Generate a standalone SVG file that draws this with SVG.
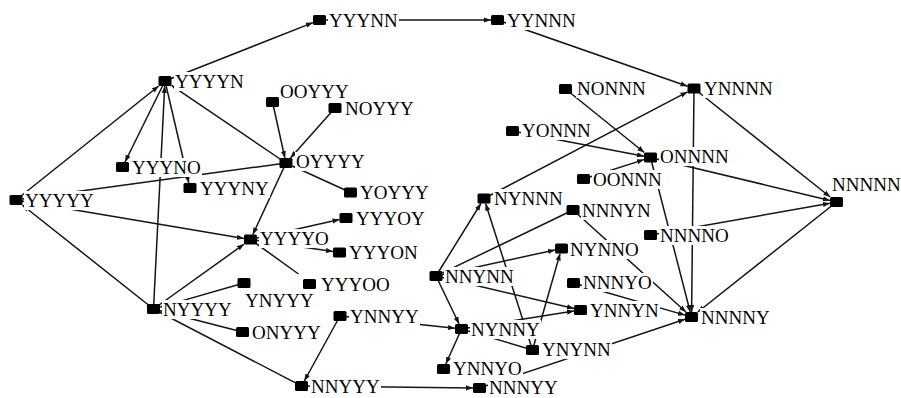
<svg xmlns="http://www.w3.org/2000/svg" width="901" height="398" viewBox="0 0 901 398">
  <style>
    .e { stroke: #141414; stroke-width: 1.5; fill: none; marker-end: url(#ah); }
    .p { stroke: #141414; stroke-width: 1.5; fill: none; }
    .sq { fill: #000; }
    .bg { fill: #fff; }
    text { font-family: "Liberation Serif", "Times New Roman", serif; font-size: 19px; fill: #000; }
  </style>
  <defs>
    <marker id="ah" markerUnits="userSpaceOnUse" markerWidth="7" markerHeight="6" refX="7" refY="3" orient="auto">
      <path d="M0,0.4 L7,3 L0,5.6 z" fill="#141414"/>
    </marker>
  </defs>

  <!-- connectors: from source centre to the edge of the target square -->
  <g id="edges">
    <line class="e" x1="16" y1="200" x2="158.7" y2="86"/>
    <line class="e" x1="153.5" y1="309" x2="22.3" y2="205"/>
    <line class="e" x1="286" y1="163" x2="22.5" y2="199.1"/>
    <line class="e" x1="16" y1="200" x2="244" y2="238.4"/>
    <line class="e" x1="165" y1="81" x2="313" y2="22.6"/>
    <line class="e" x1="319.5" y1="20" x2="491" y2="20"/>
    <line class="e" x1="497.5" y1="20" x2="687.5" y2="86.2"/>
    <line class="e" x1="165" y1="81" x2="125" y2="162"/>
    <line class="e" x1="153.5" y1="309" x2="164.7" y2="86"/>
    <line class="e" x1="165" y1="81" x2="188.8" y2="183"/>
    <line class="e" x1="286" y1="163" x2="171.5" y2="85.4"/>
    <line class="e" x1="272.5" y1="102" x2="284.9" y2="158"/>
    <line class="e" x1="335" y1="108" x2="290.5" y2="158"/>
    <line class="e" x1="350.5" y1="192.5" x2="292.5" y2="166"/>
    <line class="e" x1="286" y1="163" x2="252.8" y2="234.5"/>
    <line class="e" x1="250.5" y1="239.5" x2="339.5" y2="219.5"/>
    <line class="e" x1="250.5" y1="239.5" x2="333" y2="251.5"/>
    <line class="p" x1="250.5" y1="239.5" x2="298.5" y2="274"/>
    <line class="e" x1="153.5" y1="309" x2="244" y2="244.2"/>
    <line class="e" x1="244" y1="283" x2="160" y2="307.1"/>
    <line class="e" x1="242.5" y1="332" x2="160" y2="310.7"/>
    <line class="p" x1="153.5" y1="309" x2="295" y2="382.6"/>
    <line class="e" x1="340" y1="316" x2="304.3" y2="381"/>
    <line class="e" x1="340" y1="316" x2="455" y2="328.3"/>
    <line class="e" x1="301.5" y1="386" x2="473" y2="387.9"/>
    <line class="e" x1="479.5" y1="388" x2="685" y2="319.2"/>
    <line class="e" x1="436" y1="276" x2="480.9" y2="203.5"/>
    <line class="e" x1="436" y1="276" x2="459.1" y2="324"/>
    <line class="e" x1="436" y1="276" x2="555" y2="249.9"/>
    <line class="e" x1="573" y1="210" x2="442.5" y2="272.9"/>
    <line class="e" x1="436" y1="276" x2="574" y2="308.5"/>
    <line class="e" x1="532.5" y1="350" x2="485.6" y2="203.5"/>
    <line class="e" x1="484" y1="198.5" x2="687.5" y2="91.9"/>
    <line class="e" x1="565.5" y1="89" x2="644.3" y2="152.5"/>
    <line class="e" x1="512.5" y1="131" x2="644" y2="156.2"/>
    <line class="e" x1="583.5" y1="179" x2="644" y2="159.6"/>
    <line class="e" x1="694" y1="88.5" x2="691.6" y2="312"/>
    <line class="e" x1="650.5" y1="157.5" x2="690.2" y2="312"/>
    <line class="e" x1="650.5" y1="157.5" x2="830" y2="200.4"/>
    <line class="e" x1="694" y1="88.5" x2="830.2" y2="197"/>
    <line class="e" x1="650.5" y1="235" x2="830" y2="203.2"/>
    <line class="e" x1="836.5" y1="202" x2="697.8" y2="312"/>
    <line class="e" x1="461.5" y1="329" x2="445.8" y2="364"/>
    <line class="e" x1="532.5" y1="350" x2="468" y2="330.9"/>
    <line class="e" x1="461.5" y1="329" x2="574" y2="311"/>
    <line class="e" x1="532.5" y1="350" x2="560.1" y2="253.5"/>
    <line class="e" x1="573" y1="210" x2="686" y2="312"/>
    <line class="e" x1="573.5" y1="283" x2="685" y2="315.1"/>
  </g>

  <!-- nodes: label backing, label, square -->
  <g id="n-YYYNN"><rect class="bg" x="328" y="11" width="71" height="19"/><text x="329" y="27">YYYNN</text><rect class="sq" x="313" y="15" width="13" height="10" rx="1.5"/></g>
  <g id="n-YYNNN"><rect class="bg" x="506" y="11" width="71" height="19"/><text x="507" y="27">YYNNN</text><rect class="sq" x="491" y="15" width="13" height="10" rx="1.5"/></g>
  <g id="n-YYYYN"><rect class="bg" x="174" y="72" width="71" height="19"/><text x="175" y="88">YYYYN</text><rect class="sq" x="158.5" y="76" width="13" height="10" rx="1.5"/></g>
  <g id="n-OOYYY"><rect class="bg" x="279" y="82" width="71" height="19"/><text x="280" y="98">OOYYY</text><rect class="sq" x="266" y="97" width="13" height="10" rx="1.5"/></g>
  <g id="n-NOYYY"><rect class="bg" x="344" y="99" width="71" height="19"/><text x="345" y="115">NOYYY</text><rect class="sq" x="328.5" y="103" width="13" height="10" rx="1.5"/></g>
  <g id="n-YYYNO"><rect class="bg" x="131" y="158" width="71" height="19"/><text x="132" y="174">YYYNO</text><rect class="sq" x="116" y="162" width="13" height="10" rx="1.5"/></g>
  <g id="n-YYYNY"><rect class="bg" x="199" y="179" width="71" height="19"/><text x="200" y="195">YYYNY</text><rect class="sq" x="183.5" y="183" width="13" height="10" rx="1.5"/></g>
  <g id="n-OYYYY"><rect class="bg" x="295" y="152" width="71" height="19"/><text x="296" y="168">OYYYY</text><rect class="sq" x="279.5" y="158" width="13" height="10" rx="1.5"/></g>
  <g id="n-YOYYY"><rect class="bg" x="359" y="183" width="71" height="19"/><text x="360" y="199">YOYYY</text><rect class="sq" x="344" y="187.5" width="13" height="10" rx="1.5"/></g>
  <g id="n-YYYYY"><rect class="bg" x="24" y="191" width="71" height="19"/><text x="25" y="207">YYYYY</text><rect class="sq" x="9.5" y="195" width="13" height="10" rx="1.5"/></g>
  <g id="n-YYYOY"><rect class="bg" x="355" y="209" width="71" height="19"/><text x="356" y="225">YYYOY</text><rect class="sq" x="339.5" y="213" width="13" height="10" rx="1.5"/></g>
  <g id="n-YYYYO"><rect class="bg" x="259" y="229" width="71" height="19"/><text x="260" y="245">YYYYO</text><rect class="sq" x="244" y="234.5" width="13" height="10" rx="1.5"/></g>
  <g id="n-YYYON"><rect class="bg" x="348" y="243" width="71" height="19"/><text x="349" y="259">YYYON</text><rect class="sq" x="333" y="247.5" width="13" height="10" rx="1.5"/></g>
  <g id="n-YYYOO"><rect class="bg" x="320" y="275" width="71" height="19"/><text x="321" y="291">YYYOO</text><rect class="sq" x="303" y="279" width="13" height="10" rx="1.5"/></g>
  <g id="n-YNYYY"><rect class="bg" x="244" y="291" width="71" height="19"/><text x="245" y="307">YNYYY</text><rect class="sq" x="237.5" y="278" width="13" height="10" rx="1.5"/></g>
  <g id="n-NYYYY"><rect class="bg" x="162" y="300" width="71" height="19"/><text x="163" y="316">NYYYY</text><rect class="sq" x="147" y="304" width="13" height="10" rx="1.5"/></g>
  <g id="n-ONYYY"><rect class="bg" x="251" y="323" width="71" height="19"/><text x="252" y="339">ONYYY</text><rect class="sq" x="236" y="327" width="13" height="10" rx="1.5"/></g>
  <g id="n-YNNYY"><rect class="bg" x="349" y="307" width="71" height="19"/><text x="350" y="323">YNNYY</text><rect class="sq" x="333.5" y="311" width="13" height="10" rx="1.5"/></g>
  <g id="n-NNYYY"><rect class="bg" x="310" y="377" width="71" height="19"/><text x="311" y="393">NNYYY</text><rect class="sq" x="295" y="381" width="13" height="10" rx="1.5"/></g>
  <g id="n-NNNYY"><rect class="bg" x="488" y="378" width="71" height="19"/><text x="489" y="394">NNNYY</text><rect class="sq" x="473" y="383" width="13" height="10" rx="1.5"/></g>
  <g id="n-NNYNN"><rect class="bg" x="444" y="267" width="71" height="19"/><text x="445" y="283">NNYNN</text><rect class="sq" x="429.5" y="271" width="13" height="10" rx="1.5"/></g>
  <g id="n-NYNNY"><rect class="bg" x="470" y="320" width="71" height="19"/><text x="471" y="336">NYNNY</text><rect class="sq" x="455" y="324" width="13" height="10" rx="1.5"/></g>
  <g id="n-YNNYO"><rect class="bg" x="452" y="359" width="71" height="19"/><text x="453" y="375">YNNYO</text><rect class="sq" x="437" y="364" width="13" height="10" rx="1.5"/></g>
  <g id="n-YNYNN"><rect class="bg" x="541" y="340" width="71" height="19"/><text x="542" y="356">YNYNN</text><rect class="sq" x="526" y="345" width="13" height="10" rx="1.5"/></g>
  <g id="n-YNNYN"><rect class="bg" x="589" y="301" width="71" height="19"/><text x="590" y="317">YNNYN</text><rect class="sq" x="574" y="305" width="13" height="10" rx="1.5"/></g>
  <g id="n-NNNYO"><rect class="bg" x="582" y="273" width="71" height="19"/><text x="583" y="289">NNNYO</text><rect class="sq" x="567" y="278" width="13" height="10" rx="1.5"/></g>
  <g id="n-NNNNY"><rect class="bg" x="700" y="308" width="71" height="19"/><text x="701" y="324">NNNNY</text><rect class="sq" x="685" y="312" width="13" height="10" rx="1.5"/></g>
  <g id="n-NYNNO"><rect class="bg" x="569" y="240" width="71" height="19"/><text x="570" y="256">NYNNO</text><rect class="sq" x="555" y="243.5" width="13" height="10" rx="1.5"/></g>
  <g id="n-NNNYN"><rect class="bg" x="581" y="201" width="71" height="19"/><text x="582" y="217">NNNYN</text><rect class="sq" x="566.5" y="205" width="13" height="10" rx="1.5"/></g>
  <g id="n-NYNNN"><rect class="bg" x="493" y="189" width="71" height="19"/><text x="494" y="205">NYNNN</text><rect class="sq" x="477.5" y="193.5" width="13" height="10" rx="1.5"/></g>
  <g id="n-OONNN"><rect class="bg" x="592" y="170" width="71" height="19"/><text x="593" y="186">OONNN</text><rect class="sq" x="577" y="174" width="13" height="10" rx="1.5"/></g>
  <g id="n-ONNNN"><rect class="bg" x="659" y="147" width="71" height="19"/><text x="660" y="163">ONNNN</text><rect class="sq" x="644" y="152.5" width="13" height="10" rx="1.5"/></g>
  <g id="n-NNNNO"><rect class="bg" x="659" y="226" width="71" height="19"/><text x="660" y="242">NNNNO</text><rect class="sq" x="644" y="230" width="13" height="10" rx="1.5"/></g>
  <g id="n-NNNNN"><rect class="bg" x="831" y="175" width="70" height="19"/><text x="832" y="191">NNNNN</text><rect class="sq" x="830" y="197" width="13" height="10" rx="1.5"/></g>
  <g id="n-YNNNN"><rect class="bg" x="703" y="79" width="71" height="19"/><text x="704" y="95">YNNNN</text><rect class="sq" x="687.5" y="83.5" width="13" height="10" rx="1.5"/></g>
  <g id="n-NONNN"><rect class="bg" x="576" y="79" width="71" height="19"/><text x="577" y="95">NONNN</text><rect class="sq" x="559" y="84" width="13" height="10" rx="1.5"/></g>
  <g id="n-YONNN"><rect class="bg" x="521" y="121" width="71" height="19"/><text x="522" y="137">YONNN</text><rect class="sq" x="506" y="126" width="13" height="10" rx="1.5"/></g>
</svg>
